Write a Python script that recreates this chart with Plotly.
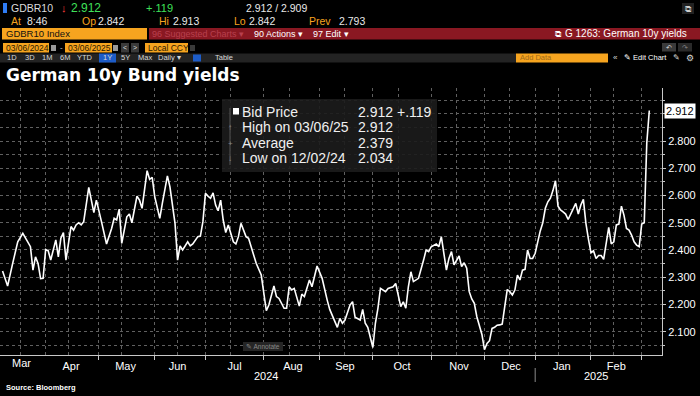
import plotly.graph_objects as go

# ---------------- data ----------------
dates = [
    "2024-03-06", "2024-03-08", "2024-03-12", "2024-03-14", "2024-03-18", "2024-03-19",
    "2024-03-21", "2024-03-22", "2024-03-25", "2024-03-26", "2024-03-27", "2024-03-28",
    "2024-04-02", "2024-04-03", "2024-04-04", "2024-04-08", "2024-04-09", "2024-04-10",
    "2024-04-11", "2024-04-12", "2024-04-16", "2024-04-17", "2024-04-18", "2024-04-19",
    "2024-04-22", "2024-04-23", "2024-04-25", "2024-04-29", "2024-04-30", "2024-05-03",
    "2024-05-07", "2024-05-09", "2024-05-10", "2024-05-13", "2024-05-14", "2024-05-15",
    "2024-05-17", "2024-05-20", "2024-05-21", "2024-05-23", "2024-05-24", "2024-05-27",
    "2024-05-29", "2024-05-30", "2024-05-31", "2024-06-03", "2024-06-05", "2024-06-06",
    "2024-06-10", "2024-06-11", "2024-06-13", "2024-06-14", "2024-06-17", "2024-06-18",
    "2024-06-20", "2024-06-21", "2024-06-24", "2024-06-26", "2024-06-27", "2024-06-28",
    "2024-07-01", "2024-07-02", "2024-07-03", "2024-07-04", "2024-07-05", "2024-07-08",
    "2024-07-09", "2024-07-10", "2024-07-11", "2024-07-12", "2024-07-16", "2024-07-17",
    "2024-07-18", "2024-07-19", "2024-07-23", "2024-07-24", "2024-07-25", "2024-07-29",
    "2024-07-31", "2024-08-01", "2024-08-02", "2024-08-05", "2024-08-07", "2024-08-08",
    "2024-08-09", "2024-08-13", "2024-08-14", "2024-08-15", "2024-08-16", "2024-08-19",
    "2024-08-21", "2024-08-22", "2024-08-23", "2024-08-27", "2024-08-28", "2024-08-30",
    "2024-09-03", "2024-09-05", "2024-09-06", "2024-09-11", "2024-09-12", "2024-09-13",
    "2024-09-16", "2024-09-18", "2024-09-19", "2024-09-20", "2024-09-24", "2024-09-25",
    "2024-09-26", "2024-09-27", "2024-10-01", "2024-10-02", "2024-10-03", "2024-10-04",
    "2024-10-08", "2024-10-09", "2024-10-11", "2024-10-14", "2024-10-16", "2024-10-17",
    "2024-10-18", "2024-10-21", "2024-10-22", "2024-10-23", "2024-10-25", "2024-10-29",
    "2024-10-30", "2024-10-31", "2024-11-01", "2024-11-05", "2024-11-06", "2024-11-07",
    "2024-11-08", "2024-11-11", "2024-11-12", "2024-11-13", "2024-11-14", "2024-11-15",
    "2024-11-18", "2024-11-19", "2024-11-20", "2024-11-21", "2024-11-22", "2024-11-25",
    "2024-11-26", "2024-11-27", "2024-11-28", "2024-11-29", "2024-12-02", "2024-12-03",
    "2024-12-04", "2024-12-05", "2024-12-06", "2024-12-09", "2024-12-10", "2024-12-11",
    "2024-12-12", "2024-12-13", "2024-12-16", "2024-12-17", "2024-12-18", "2024-12-19",
    "2024-12-20", "2024-12-23", "2024-12-24", "2024-12-27", "2024-12-30", "2024-12-31",
    "2025-01-02", "2025-01-03", "2025-01-06", "2025-01-07", "2025-01-08", "2025-01-09",
    "2025-01-10", "2025-01-13", "2025-01-14", "2025-01-15", "2025-01-16", "2025-01-17",
    "2025-01-20", "2025-01-21", "2025-01-22", "2025-01-23", "2025-01-24", "2025-01-27",
    "2025-01-28", "2025-01-29", "2025-01-30", "2025-01-31", "2025-02-03", "2025-02-04",
    "2025-02-05", "2025-02-06", "2025-02-07", "2025-02-10", "2025-02-11", "2025-02-12",
    "2025-02-13", "2025-02-14", "2025-02-17", "2025-02-18", "2025-02-19", "2025-02-20",
    "2025-02-21", "2025-02-24", "2025-02-25", "2025-02-26", "2025-02-27", "2025-02-28",
    "2025-03-03", "2025-03-04", "2025-03-05", "2025-03-06",
]
yields = [
    2.323, 2.268, 2.351, 2.430, 2.461, 2.443,
    2.412, 2.326, 2.375, 2.351, 2.295, 2.296,
    2.402, 2.397, 2.363, 2.437, 2.375, 2.443,
    2.464, 2.363, 2.486, 2.473, 2.492, 2.500,
    2.492, 2.504, 2.630, 2.537, 2.583, 2.504,
    2.422, 2.479, 2.516, 2.510, 2.550, 2.424,
    2.522, 2.532, 2.500, 2.598, 2.583, 2.553,
    2.691, 2.659, 2.667, 2.596, 2.516, 2.571,
    2.672, 2.632, 2.498, 2.363, 2.415, 2.400,
    2.430, 2.415, 2.422, 2.449, 2.451, 2.504,
    2.608, 2.598, 2.590, 2.610, 2.565, 2.544,
    2.583, 2.510, 2.464, 2.492, 2.430, 2.422,
    2.449, 2.498, 2.449, 2.443, 2.412, 2.351,
    2.308, 2.241, 2.177, 2.198, 2.268, 2.229,
    2.222, 2.186, 2.186, 2.265, 2.253, 2.259,
    2.194, 2.238, 2.229, 2.290, 2.265, 2.341,
    2.296, 2.216, 2.182, 2.116, 2.149, 2.131,
    2.143, 2.198, 2.210, 2.153, 2.143, 2.182,
    2.131, 2.116, 2.042, 2.131, 2.186, 2.259,
    2.247, 2.259, 2.265, 2.277, 2.192, 2.210,
    2.186, 2.265, 2.320, 2.284, 2.296, 2.363,
    2.400, 2.394, 2.412, 2.422, 2.412, 2.449,
    2.380, 2.326, 2.369, 2.394, 2.345, 2.360,
    2.378, 2.339, 2.353, 2.333, 2.247, 2.220,
    2.204, 2.155, 2.120, 2.090, 2.034, 2.057,
    2.067, 2.112, 2.116, 2.124, 2.125, 2.128,
    2.192, 2.255, 2.247, 2.235, 2.253, 2.308,
    2.290, 2.326, 2.329, 2.400, 2.369, 2.369,
    2.388, 2.430, 2.470, 2.500, 2.553, 2.577,
    2.590, 2.618, 2.654, 2.561, 2.547, 2.540,
    2.532, 2.512, 2.530, 2.550, 2.571, 2.532,
    2.565, 2.586, 2.498, 2.440, 2.390, 2.397,
    2.369, 2.380, 2.380, 2.366, 2.430, 2.483,
    2.422, 2.430, 2.492, 2.495, 2.561, 2.528,
    2.479, 2.473, 2.455, 2.430, 2.418, 2.412,
    2.495, 2.500, 2.793, 2.912,
]
market_holidays = ["2024-03-29", "2024-04-01", "2024-05-01",
                   "2024-12-25", "2024-12-26", "2025-01-01"]
mid_month_grid = ["2024-03-15", "2024-04-15", "2024-05-15", "2024-06-14", "2024-07-15",
                  "2024-08-15", "2024-09-16", "2024-10-15", "2024-11-15", "2024-12-16",
                  "2025-01-15", "2025-02-14"]
x_range = ["2024-03-05", "2025-03-13"]
y_range = [2.0145, 2.9947]
y_tick_values = [2.1, 2.2, 2.3, 2.4, 2.5, 2.6, 2.7, 2.8]
y_tick_labels = ["2.100", "2.200", "2.300", "2.400", "2.500", "2.600", "2.700", "2.800"]
first_month_label = "Mar"
first_month_label_date = "2024-03-15 12:00"
year_labels = ["2024", "2025"]
year_label_dates = ["2024-08-02", "2025-02-05"]
year_split_date = "2025-01-02"

stats_labels = ["Bid Price", "High on 03/06/25", "Average", "Low on 12/02/24"]
stats_values = ["2.912", "2.912", "2.379", "2.034"]
stats_change = "+.119"

# ---------------- layout helpers (pixel -> paper) ----------------
W, H = 700, 396
ML, MR, MT, MB = 0, 38, 88, 41
PW, PH = W - ML - MR, H - MT - MB


def X(px):
    return (px - ML) / PW


def Y(py):
    return (H - MB - py) / PH


SANS = "Liberation Sans, Arial, sans-serif"
BOLD = "DejaVu Sans, Verdana, sans-serif"
ORANGE = "#f6a41f"
REDBAR = "#8a1822"
GRID = "#606060"
AXIS = "#c8c8c8"

fig = go.Figure()
fig.add_trace(go.Scatter(x=dates, y=yields, mode="lines",
                         line=dict(color="#ffffff", width=1.6),
                         hoverinfo="skip"))

shapes = []
annos = []


def rect(x0, y0, x1, y1, color, layer="above"):
    shapes.append(dict(type="rect", xref="paper", yref="paper",
                       x0=X(x0), x1=X(x1), y0=Y(y1), y1=Y(y0),
                       fillcolor=color, line=dict(width=0), layer=layer))


def text(px, py, s, color="#ffffff", size=11, family=SANS, anchor="left", bold=False):
    if bold:
        s = "<b>" + s + "</b>"
    annos.append(dict(xref="paper", yref="paper", x=X(px), y=Y(py), text=s,
                      showarrow=False, xanchor=anchor, yanchor="middle",
                      font=dict(color=color, size=size, family=family)))


# ---------------- header (terminal chrome) ----------------
rect(3, 3, 7, 13, "#2f7df6")
text(9, 8, "GDBR10", "#dcdcdc", 10.5)
text(59, 8, "↓", "#ff3b3b", 11)
text(69, 8, "2.912", "#3fe05a", 12)
text(144, 8, "+.119", "#3fe05a", 11)
text(244, 8, "2.912 / 2.909", "#e8e8e8", 10.5)

for lab, px in [("At", 9), ("Op", 80), ("Hi", 157), ("Lo", 232), ("Prev", 307)]:
    text(px, 21, lab, ORANGE, 10.5)
for val, px in [("8:46", 25), ("2.842", 96), ("2.913", 171), ("2.842", 247), ("2.793", 337)]:
    text(px, 21, val, "#e8e8e8", 10.5)
rect(682, 3, 694, 14, "#222222")
text(688, 8.5, "⧉", "#cccccc", 9, anchor="center")

rect(2, 28, 147, 39.5, ORANGE)
rect(149, 28, 700, 39.5, REDBAR)
text(4, 34, "GDBR10 Index", "#111111", 9.5)
text(150, 34, "96 Suggested Charts ▾", "#b8404e", 9)
text(252, 34, "90 Actions ▾", "#ffffff", 9)
text(311, 34, "97 Edit ▾", "#ffffff", 9)
text(558, 34, "⧉", "#ffffff", 9, anchor="center")
text(689, 34, "G 1263: German 10y yields", "#ffffff", 10, anchor="right")

rect(3, 43, 49, 52.5, ORANGE)
rect(65, 43, 112, 52.5, ORANGE)
rect(145, 43, 188, 52.5, ORANGE)
rect(51, 45, 56, 51, "#9a9a9a")
rect(113, 45, 118, 51, "#9a9a9a")
rect(121, 43, 129, 52.5, "#3a3a3a")
rect(131, 43, 139, 52.5, "#3a3a3a")
rect(190, 45, 195, 51, "#3a3a3a")
text(4, 47.8, "03/06/2024", "#2a1800", 8.5)
text(58, 47.8, "-", "#cccccc", 8)
text(66, 47.8, "03/06/2025", "#2a1800", 8.5)
text(125, 47.8, "<", "#dddddd", 7, anchor="center")
text(135, 47.8, ">", "#dddddd", 7, anchor="center")
text(146, 47.8, "Local CCY", "#2a1800", 8.5)
rect(662, 43, 676, 51.5, "#3a3a3a")
rect(678, 43, 692, 51.5, "#2a2a2a")
text(669, 47.3, "↶", "#dddddd", 7, anchor="center")
text(685, 47.3, "↷", "#888888", 7, anchor="center")

rect(0, 53.5, 516, 62.5, "#232323")
rect(99, 53.5, 116, 62.5, "#1d5cc8")
for lab, px in [("1D", 12), ("3D", 30), ("1M", 47), ("6M", 65), ("YTD", 85), ("1Y", 107.5),
                ("5Y", 125), ("Max", 145), ("Daily ▾", 169), ("Table", 224)]:
    text(px, 58, lab, "#d8d8d8", 7.5, anchor="center")
rect(193, 54.5, 201, 61.5, "#1d5cc8")
rect(516, 53.5, 608, 62.5, ORANGE)
text(518, 58, "Add Data", "#a06a1a", 7.5)
text(615, 58, "«", "#d8d8d8", 8, anchor="center")
text(622, 58, "✎ Edit Chart", "#ffffff", 7.5)
text(676, 58, "✎", "#d8d8d8", 8, anchor="center")
text(690, 58, "⚙", "#d8d8d8", 9, anchor="center")

# ---------------- title ----------------
text(4, 75, "German 10y Bund yields", "#ffffff", 17, BOLD, bold=True)

# ---------------- stats box ----------------
rect(222, 99, 437, 172, "rgba(28,28,28,0.9)")
shapes.append(dict(type="line", xref="paper", yref="paper", x0=X(230), x1=X(230),
                   y0=Y(108), y1=Y(165), line=dict(color="#555555", width=1)))
rect(233, 108, 239, 114.5, "#ffffff")
row_y = [111.7, 127.3, 143.3, 158.3]
for mark, py in zip(["", "↑", "+", "↓"], row_y):
    if mark:
        text(230, py, mark, "#888888", 8, SANS, anchor="center")
for lab, val, py in zip(stats_labels, stats_values, row_y):
    text(240, py, lab, "#f0f0f0", 14, SANS)
    text(356, py, val, "#f0f0f0", 14, SANS)
text(395, row_y[0], stats_change, "#f0f0f0", 14, SANS)

# ---------------- annotate chip / source ----------------
rect(243, 342, 283, 351, "#252525")
text(263, 346.5, "✎ Annotate", "#8a8a8a", 6.5, SANS, anchor="center")
text(4, 387, "Source: Bloomberg", "#ffffff", 7.5, SANS, bold=True)

# ---------------- first month label & year row ----------------
annos.append(dict(xref="x", yref="paper", x=first_month_label_date, y=Y(362.7),
                  text=first_month_label, showarrow=False, xanchor="center",
                  yanchor="middle", font=dict(color="#ffffff", size=11, family=SANS)))
for lab, d in zip(year_labels, year_label_dates):
    annos.append(dict(xref="x", yref="paper", x=d, y=Y(375.5), text=lab, showarrow=False,
                      xanchor="center", yanchor="middle",
                      font=dict(color="#ffffff", size=11, family=SANS)))
shapes.append(dict(type="line", xref="x", yref="paper", x0=year_split_date, x1=year_split_date,
                   y0=Y(368), y1=Y(382), line=dict(color="#8a8a8a", width=1)))

# ---------------- last price tag ----------------
annos.append(dict(xref="paper", yref="y", x=1.0, y=yields[-1], text=f"{yields[-1]:.3f}",
                  showarrow=False, xanchor="left", yanchor="middle", xshift=2,
                  bgcolor="#ffffff", borderpad=1,
                  font=dict(color="#000000", size=11, family=SANS)))

fig.update_layout(
    width=W, height=H,
    margin=dict(l=ML, r=MR, t=MT, b=MB, pad=0),
    paper_bgcolor="#000000", plot_bgcolor="#000000",
    showlegend=False,
    shapes=shapes, annotations=annos,
    xaxis=dict(
        type="date", range=x_range,
        rangebreaks=[dict(bounds=["sat", "mon"]), dict(values=market_holidays)],
        dtick="M1", tick0="2024-03-01", tickformat="%b", ticklabelmode="period",
        ticks="outside", ticklen=4, tickcolor=AXIS,
        showline=True, linecolor=AXIS, linewidth=1,
        showgrid=True, gridcolor=GRID, griddash="dot", gridwidth=1,
        minor=dict(tickmode="array", tickvals=mid_month_grid, showgrid=True,
                   gridcolor=GRID, griddash="dot", gridwidth=1, ticks=""),
        tickfont=dict(color="#ffffff", size=11, family=SANS),
        ticklabelstandoff=-3,
        zeroline=False, fixedrange=True,
    ),
    yaxis=dict(
        side="right", range=y_range,
        tickmode="array", tickvals=y_tick_values, ticktext=y_tick_labels,
        ticks="outside", ticklen=3, tickcolor=AXIS,
        showline=True, linecolor=AXIS, linewidth=1,
        showgrid=True, gridcolor=GRID, griddash="dot", gridwidth=1,
        minor=dict(dtick=0.05, tick0=2.0, showgrid=True, gridcolor=GRID, griddash="dot",
                   ticks="outside", ticklen=2, tickcolor=AXIS),
        tickfont=dict(color="#ffffff", size=11, family=SANS),
        ticklabelstandoff=0,
        zeroline=False, fixedrange=True,
    ),
)

fig.write_html(
    "out.html",
    config={"displayModeBar": False},
    post_script="document.body.style.margin='0';document.body.style.background='#000';",
)
